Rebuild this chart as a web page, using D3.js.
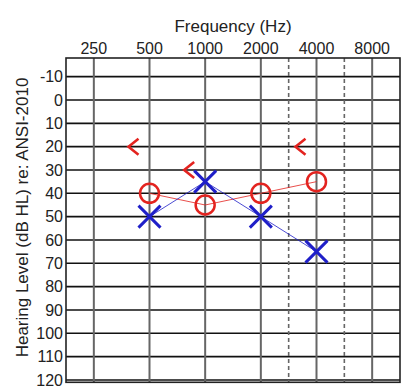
<!DOCTYPE html>
<html>
<head>
<meta charset="utf-8">
<script src="https://cdn.jsdelivr.net/npm/d3@7"></script>
<style>
  html, body { margin: 0; padding: 0; background: #fff; }
  svg { display: block; }
  text { font-family: "Liberation Sans", Arial, sans-serif; fill: #222; }
</style>
</head>
<body>
<svg id="chart" width="409" height="391"></svg>
<script>
// Audiogram data
const octaveFreqs = [250, 500, 1000, 2000, 4000, 8000];
const interOctaveFreqs = [3000, 6000];
const levelTicks = [-10, 0, 10, 20, 30, 40, 50, 60, 70, 80, 90, 100, 110, 120];

const airFreqs = [500, 1000, 2000, 4000];
const rightAir = [40, 45, 40, 35];   // red circles
const leftAir = [50, 35, 50, 65];    // blue crosses

const boneFreqs = [500, 1000, 4000];
const boneLevels = [20, 30, 20];     // red "<" markers

const RED = "#e3231f";
const BLUE = "#1f1fc8";

const svg = d3.select("#chart");
const plotL = 66, plotR = 400, plotT = 58, plotB = 382.3;

const x = d3.scaleLog().base(2)
  .domain([250 / Math.SQRT2, 8000 * Math.SQRT2])
  .range([plotL, plotR]);
const y = d3.scaleLinear().domain([-18, 121]).range([plotT, plotB]);

// inter-octave frequencies sit midway between their neighbouring octaves
const xAt = f => interOctaveFreqs.includes(f) ? (x(f * 2 / 3) + x(f * 4 / 3)) / 2 : x(f);

// horizontal grid
svg.append("g").selectAll("line").data(levelTicks).join("line")
  .attr("x1", plotL).attr("x2", plotR)
  .attr("y1", d => y(d)).attr("y2", d => y(d))
  .attr("stroke", "#111").attr("stroke-width", 1.6);

// vertical grid at octaves
svg.append("g").selectAll("line").data(octaveFreqs).join("line")
  .attr("x1", d => x(d)).attr("x2", d => x(d))
  .attr("y1", plotT).attr("y2", plotB)
  .attr("stroke", "#666").attr("stroke-width", 2);

// dashed inter-octave lines
svg.append("g").selectAll("line").data(interOctaveFreqs).join("line")
  .attr("x1", d => xAt(d)).attr("x2", d => xAt(d))
  .attr("y1", plotT).attr("y2", plotB)
  .attr("stroke", "#666").attr("stroke-width", 1.6)
  .attr("stroke-dasharray", "4,3");

// frame
svg.append("rect")
  .attr("x", plotL).attr("y", plotT)
  .attr("width", plotR - plotL).attr("height", plotB - plotT)
  .attr("fill", "none").attr("stroke", "#222").attr("stroke-width", 1.6);

// frequency labels
svg.append("g").selectAll("text").data(octaveFreqs).join("text")
  .attr("x", d => x(d)).attr("y", 54)
  .attr("text-anchor", "middle").attr("font-size", 16)
  .text(d => d);

svg.append("text")
  .attr("x", (plotL + plotR) / 2).attr("y", 32)
  .attr("text-anchor", "middle").attr("font-size", 17)
  .text("Frequency (Hz)");

// level labels
svg.append("g").selectAll("text").data(levelTicks).join("text")
  .attr("x", 63).attr("y", d => y(d))
  .attr("dy", "0.36em")
  .attr("text-anchor", "end").attr("font-size", 16)
  .text(d => d);

svg.append("text")
  .attr("transform", "translate(28,217.5) rotate(-90)")
  .attr("text-anchor", "middle").attr("font-size", 17)
  .text("Hearing Level (dB HL) re: ANSI-2010");

// connecting lines
const line = d3.line().x(d => x(d[0])).y(d => y(d[1]));
svg.append("path")
  .datum(airFreqs.map((f, i) => [f, rightAir[i]]))
  .attr("d", line).attr("fill", "none")
  .attr("stroke", RED).attr("stroke-width", 1).attr("stroke-opacity", 0.8);
svg.append("path")
  .datum(airFreqs.map((f, i) => [f, leftAir[i]]))
  .attr("d", line).attr("fill", "none")
  .attr("stroke", BLUE).attr("stroke-width", 1).attr("stroke-opacity", 0.8);

// right air: circles
svg.append("g").selectAll("circle").data(airFreqs).join("circle")
  .attr("cx", d => x(d)).attr("cy", (d, i) => y(rightAir[i]))
  .attr("r", 9.5)
  .attr("fill", "none").attr("stroke", RED).attr("stroke-width", 2.5);

// left air: crosses
const s = 11;
svg.append("g").selectAll("path").data(airFreqs).join("path")
  .attr("d", (d, i) => {
    const cx = x(d), cy = y(leftAir[i]);
    return `M${cx - s},${cy - s}L${cx + s},${cy + s}M${cx - s},${cy + s}L${cx + s},${cy - s}`;
  })
  .attr("fill", "none").attr("stroke", BLUE).attr("stroke-width", 3);

// bone conduction: "<" left of the frequency line
svg.append("g").selectAll("path").data(boneFreqs).join("path")
  .attr("d", (d, i) => {
    const cx = x(d), cy = y(boneLevels[i]);
    return `M${cx - 11},${cy - 8}L${cx - 21},${cy}L${cx - 11},${cy + 8}`;
  })
  .attr("fill", "none").attr("stroke", RED).attr("stroke-width", 2.6)
  .attr("stroke-linejoin", "miter");
</script>
</body>
</html>
